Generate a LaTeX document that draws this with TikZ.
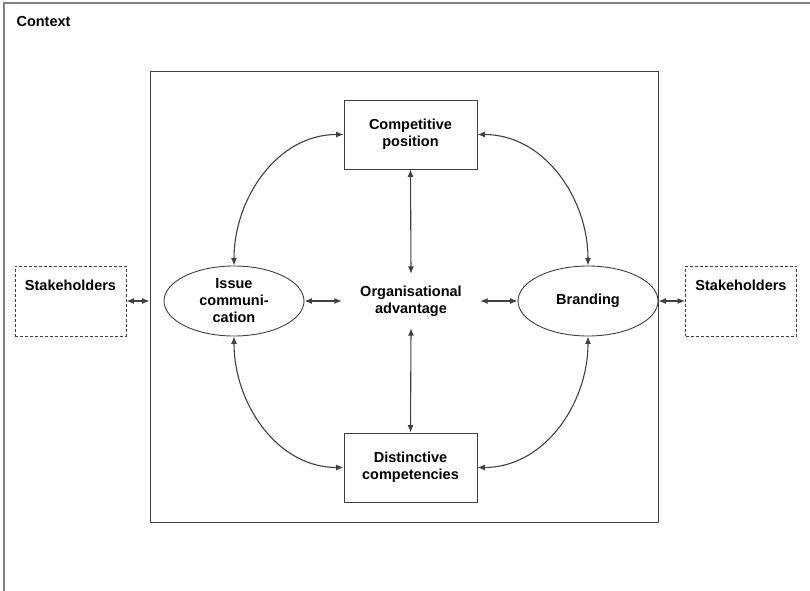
\documentclass[tikz,border=0pt]{standalone}
\usepackage{fontspec}
\setmainfont{Liberation Sans}
\usetikzlibrary{arrows.meta,shapes.geometric}

\definecolor{framegray}{RGB}{128,128,128}
\definecolor{linegray}{RGB}{64,64,64}

\tikzset{
  lbl/.style={font=\fontsize{14.5}{17}\selectfont\bfseries, align=center, text=black},
  boxnode/.style={lbl, draw=linegray, line width=0.9pt, minimum width=133pt, minimum height=69pt, inner sep=0pt},
  ovalnode/.style={lbl, ellipse, draw=linegray, line width=0.9pt, minimum width=140pt, minimum height=70pt, inner sep=0pt},
  stakebox/.style={draw=linegray, dashed, dash pattern=on 3pt off 2pt, line width=0.8pt, minimum width=111pt, minimum height=70pt, inner sep=0pt},
  link/.style={<->, >={Latex[length=7.5pt,width=6pt]}, draw=linegray, line width=1.1pt}
}

\begin{document}
\begin{tikzpicture}[x=1pt,y=1pt]
  \useasboundingbox (0,0) rectangle (810,590);
  \clip (0,0) rectangle (810,590);

  % outer context frame (only its top and left edges fall inside the page)
  \draw[framegray, line width=1.6pt] (4,-20) -- (4,587) -- (830,587);
  \node[lbl, anchor=base west] (ctx) at (13,563) {Context};

  % organisation frame
  \node[draw=linegray, line width=1pt, minimum width=508pt, minimum height=450pt, inner sep=0pt] (core) at (404,293) {};

  % central elements
  \node[boxnode] (comp) at (410.5,455.5) {Competitive\\position};
  \node[boxnode] (dist) at (410.5,122.5) {Distinctive\\competencies};
  \node[ovalnode] (issue) at (234,289) {Issue\\communi-\\cation};
  \node[ovalnode] (brand) at (588,289) {Branding};
  \node[lbl, minimum width=138pt, minimum height=54pt, inner sep=0pt] (adv) at (411,289) {Organisational\\advantage};

  % stakeholders outside the organisation
  \node[stakebox] (stakeL) at (70.5,289) {};
  \node[lbl] (stakeLt) at (70.5,305) {Stakeholders};
  \node[stakebox] (stakeR) at (741,289) {};
  \node[lbl] (stakeRt) at (741,305) {Stakeholders};

  % links to stakeholders
  \draw[link] (stakeL.east) -- (stakeL.east -| core.west);
  \draw[link] (brand.east) -- (stakeR.west);

  % links to the central advantage
  \draw[link] (comp.south) -- (adv.north);
  \draw[link] (adv.south) -- (dist.north);
  \draw[link] (issue.east) -- (adv.west);
  \draw[link] (adv.east) -- (brand.west);

  % curved links around the cycle
  \draw[link] (comp.west) to[out=180,in=90] (issue.north);
  \draw[link] (comp.east) to[out=0,in=90] (brand.north);
  \draw[link] (dist.west) to[out=180,in=270] (issue.south);
  \draw[link] (dist.east) to[out=0,in=270] (brand.south);
\end{tikzpicture}
\end{document}
